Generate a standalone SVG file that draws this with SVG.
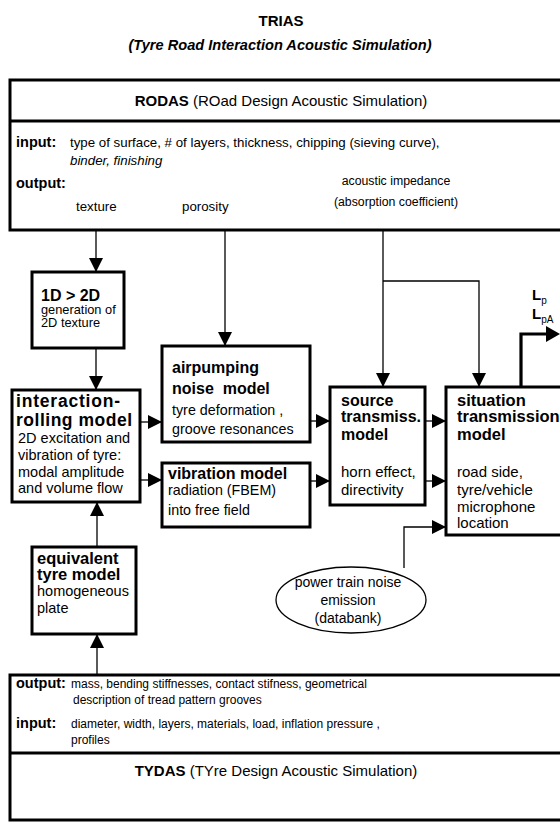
<svg xmlns="http://www.w3.org/2000/svg" width="560" height="824" viewBox="0 0 560 824">
<defs>
<style>
text{font-family:"Liberation Sans",Arial,Helvetica,sans-serif;fill:#000}
.t{font-weight:bold;font-size:15px}
.ti{font-weight:bold;font-style:italic;font-size:14.6px}
.h{font-size:15px}
.b{font-weight:bold}
.lab{font-weight:bold;font-size:14.5px}
.sm{font-size:13.3px}
.sm2{font-size:12px}
.ac{font-size:12.3px}
.it{font-style:italic}
.hd{font-weight:bold;font-size:16px}
.bx{font-size:14.5px}
.box{fill:#fff;stroke:#000;stroke-width:3}
.big{fill:none;stroke:#000;stroke-width:3}
.ln{fill:none;stroke:#000;stroke-width:1.3}
.thk{fill:none;stroke:#000;stroke-width:3.2}
</style>
<marker id="ah" markerUnits="userSpaceOnUse" markerWidth="14" markerHeight="14" refX="14" refY="7" orient="auto">
<path d="M0,0 L14,7 L0,14 z" fill="#000"/>
</marker>
</defs>
<rect width="560" height="824" fill="#fff"/>

<g id="title">
<text class="t" x="281" y="26" text-anchor="middle">TRIAS</text>
<text class="ti" x="280" y="50" text-anchor="middle">(Tyre Road Interaction Acoustic Simulation)</text>
</g>

<g id="rodas">
<rect class="big" x="10" y="80" width="570" height="150"/>
<line class="big" x1="10" y1="121" x2="560" y2="121"/>
<text class="h" x="281" y="106" text-anchor="middle"><tspan class="b">RODAS</tspan> (ROad Design Acoustic Simulation)</text>
<text class="lab" x="16" y="147">input:</text>
<text class="sm" x="70" y="147">type of surface, # of layers, thickness, chipping (sieving curve),</text>
<text class="sm it" x="70" y="165">binder, finishing</text>
<text class="lab" x="16" y="188">output:</text>
<text class="ac" x="396" y="185" text-anchor="middle">acoustic impedance</text>
<text class="sm" x="76" y="211">texture</text>
<text class="sm" x="182" y="211">porosity</text>
<text class="ac" x="396" y="206" text-anchor="middle">(absorption coefficient)</text>
</g>

<g id="connectors">
<line class="ln" x1="96" y1="230" x2="96" y2="272" marker-end="url(#ah)"/>
<line class="ln" x1="225" y1="230" x2="225" y2="346" marker-end="url(#ah)"/>
<line class="ln" x1="383" y1="230" x2="383" y2="387" marker-end="url(#ah)"/>
<polyline class="ln" points="383,281 479,281 479,387" marker-end="url(#ah)"/>
<line class="ln" x1="96" y1="348" x2="96" y2="390" marker-end="url(#ah)"/>
<line class="ln" x1="140" y1="422" x2="162" y2="422" marker-end="url(#ah)"/>
<line class="ln" x1="140" y1="480" x2="162" y2="480" marker-end="url(#ah)"/>
<line class="ln" x1="310" y1="421" x2="330" y2="421" marker-end="url(#ah)"/>
<line class="ln" x1="310" y1="481" x2="330" y2="481" marker-end="url(#ah)"/>
<line class="ln" x1="425" y1="421" x2="446" y2="421" marker-end="url(#ah)"/>
<line class="ln" x1="425" y1="481" x2="446" y2="481" marker-end="url(#ah)"/>
<polyline class="ln" points="404,568 404,527 446,527" marker-end="url(#ah)"/>
<line class="ln" x1="97" y1="547" x2="97" y2="502" marker-end="url(#ah)"/>
<line class="ln" x1="97" y1="675" x2="97" y2="634" marker-end="url(#ah)"/>
<polyline class="thk" points="521,387 521,334 548,334"/>
<path d="M546,326 L560,334 L546,342 z" fill="#000"/>
</g>

<g id="n1d2d">
<rect class="box" x="32" y="272" width="92" height="76"/>
<text class="hd" x="41" y="301">1D &gt; 2D</text>
<text class="bx" x="41" y="314" style="font-size:12.8px">generation of</text>
<text class="bx" x="41" y="327" style="font-size:12.8px">2D texture</text>
</g>

<g id="interaction">
<rect class="box" x="12" y="390" width="128" height="112"/>
<text class="hd" x="16" y="407" style="font-size:17.5px" textLength="104">interaction-</text>
<text class="hd" x="16" y="426" style="font-size:17.5px" textLength="116">rolling model</text>
<text class="bx" x="18" y="443">2D excitation and</text>
<text class="bx" x="18" y="460">vibration of tyre:</text>
<text class="bx" x="18" y="477">modal amplitude</text>
<text class="bx" x="18" y="493">and volume flow</text>
</g>

<g id="airpumping">
<rect class="box" x="162" y="346" width="148" height="96"/>
<text class="hd" x="172" y="373">airpumping</text>
<text class="hd" x="172" y="394" xml:space="preserve">noise  model</text>
<text class="bx" x="172" y="415" style="font-size:14.3px">tyre deformation ,</text>
<text class="bx" x="172" y="434" style="font-size:14.3px">groove resonances</text>
</g>

<g id="vibration">
<rect class="box" x="162" y="463" width="148" height="64"/>
<text class="hd" x="168" y="479">vibration model</text>
<text class="bx" x="168" y="495" style="font-size:14.3px">radiation (FBEM)</text>
<text class="bx" x="168" y="515" style="font-size:14.3px">into free field</text>
</g>

<g id="source">
<rect class="box" x="330" y="387" width="95" height="118"/>
<text class="hd" x="341" y="406">source</text>
<text class="hd" x="341" y="422">transmiss.</text>
<text class="hd" x="341" y="440">model</text>
<text class="bx" x="341" y="477" style="font-size:15px">horn effect,</text>
<text class="bx" x="341" y="495" style="font-size:15px">directivity</text>
</g>

<g id="situation">
<rect class="box" x="446" y="387" width="134" height="148"/>
<text class="hd" x="457" y="406" style="font-size:16.5px">situation</text>
<text class="hd" x="457" y="422" style="font-size:16.5px">transmission</text>
<text class="hd" x="457" y="440" style="font-size:16.5px">model</text>
<text class="bx" x="457" y="477" style="font-size:15px">road side,</text>
<text class="bx" x="457" y="495" style="font-size:15px">tyre/vehicle</text>
<text class="bx" x="457" y="512" style="font-size:15px">microphone</text>
<text class="bx" x="457" y="528" style="font-size:15px">location</text>
</g>

<g id="levels">
<text class="b" x="532" y="300" style="font-size:15px">L<tspan style="font-size:10px;font-weight:normal" dy="4">p</tspan></text>
<text class="b" x="532" y="319" style="font-size:15px">L<tspan style="font-size:10px;font-weight:normal" dy="4">pA</tspan></text>
</g>

<g id="powertrain">
<ellipse cx="351" cy="600" rx="75" ry="33" fill="#fff" stroke="#000" stroke-width="1.3"/>
<text class="bx" x="348" y="587" text-anchor="middle" style="font-size:14px">power train noise</text>
<text class="bx" x="348" y="605" text-anchor="middle" style="font-size:14px">emission</text>
<text class="bx" x="348" y="623" text-anchor="middle" style="font-size:14px">(databank)</text>
</g>

<g id="equivalent">
<rect class="box" x="32" y="547" width="104" height="87"/>
<text class="hd" x="37" y="564" style="font-size:16.5px">equivalent</text>
<text class="hd" x="37" y="580" style="font-size:16.5px">tyre model</text>
<text class="bx" x="37" y="596">homogeneous</text>
<text class="bx" x="37" y="613">plate</text>
</g>

<g id="tydas">
<rect class="big" x="10" y="675" width="570" height="145"/>
<line class="big" x1="10" y1="753" x2="560" y2="753"/>
<text class="lab" x="16" y="688">output:</text>
<text class="sm2" x="71" y="688">mass, bending stiffnesses, contact stifness, geometrical</text>
<text class="sm2" x="73" y="704">description of tread pattern grooves</text>
<text class="lab" x="16" y="728">input:</text>
<text class="sm2" x="71" y="728">diameter, width, layers, materials, load, inflation pressure ,</text>
<text class="sm2" x="71" y="744">profiles</text>
<text class="h" x="276" y="776" text-anchor="middle"><tspan class="b">TYDAS</tspan> (TYre Design Acoustic Simulation)</text>
</g>
</svg>
